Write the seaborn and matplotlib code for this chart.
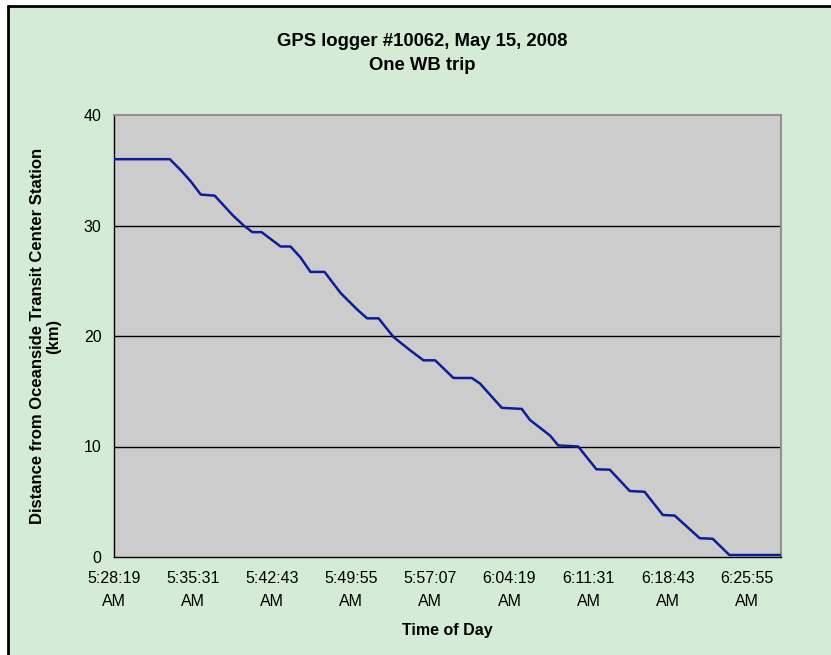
import matplotlib
matplotlib.use("Agg")
import matplotlib.pyplot as plt
import seaborn as sns
import pandas as pd
import numpy as np
from matplotlib.lines import Line2D
from matplotlib.patches import Rectangle

# clock times (h:mm:ss, AM)
times = ['5:28:19', '5:33:24', '5:34:24', '5:35:18', '5:36:13', '5:37:29', '5:39:06',
         '5:40:07', '5:40:55', '5:41:45', '5:43:29', '5:44:23', '5:45:18', '5:46:12',
         '5:47:29', '5:48:56', '5:50:27', '5:51:21', '5:52:24', '5:53:46', '5:55:17',
         '5:56:29', '5:57:33', '5:59:13', '6:00:53', '6:01:38', '6:03:37', '6:05:26',
         '6:06:11', '6:08:00', '6:08:45', '6:10:34', '6:12:14', '6:13:27', '6:15:16',
         '6:16:37', '6:18:17', '6:19:21', '6:21:38', '6:22:49', '6:24:20', '6:29:02']
distance_km = [36.0, 36.0, 35.0, 34.0, 32.8, 32.7, 30.95,
               30.0, 29.4, 29.4, 28.1, 28.1, 27.1, 25.8,
               25.8, 23.9, 22.4, 21.6, 21.6, 19.9, 18.7,
               17.8, 17.8, 16.2, 16.2, 15.7, 13.5, 13.4,
               12.4, 11.0, 10.1, 10.0, 7.94, 7.9, 5.97,
               5.9, 3.8, 3.75, 1.7, 1.65, 0.18, 0.18]
tick_labels = ['5:28:19\nAM', '5:35:31\nAM', '5:42:43\nAM', '5:49:55\nAM', '5:57:07\nAM',
               '6:04:19\nAM', '6:11:31\nAM', '6:18:43\nAM', '6:25:55\nAM']
y_ticks = [0, 10, 20, 30, 40]


def to_sec(s):
    h, m, sec = [int(v) for v in s.split(':')]
    return h * 3600 + m * 60 + sec


df = pd.DataFrame({'t': [to_sec(t) for t in times], 'km': distance_km})
tick_pos = [to_sec(lbl.split('\n')[0]) for lbl in tick_labels]

sns.set_style('white')
plt.rcParams['font.family'] = ['Liberation Sans', 'DejaVu Sans']
plt.rcParams['text.color'] = 'black'
plt.rcParams['axes.labelcolor'] = 'black'
plt.rcParams['xtick.color'] = 'black'
plt.rcParams['ytick.color'] = 'black'

fig = plt.figure(figsize=(8.31, 6.55), dpi=100, facecolor='white')
green = '#d4ebd6'
# chart area with black frame on top and left
fig.add_artist(Rectangle((8 / 831, 0), 1, 1 - 6 / 655, transform=fig.transFigure,
                         facecolor=green, edgecolor='none', zorder=0))
fig.add_artist(Line2D([8 / 831, 1], [1 - 6 / 655] * 2, transform=fig.transFigure,
                      color='black', lw=2))
fig.add_artist(Line2D([8 / 831] * 2, [0, 1 - 6 / 655], transform=fig.transFigure,
                      color='black', lw=2))

ax = fig.add_axes([114 / 831, 1 - 557 / 655, (781 - 114) / 831, (557 - 115) / 655])
ax.set_facecolor('#cccccc')

for yv in y_ticks[1:-1]:
    ax.axhline(yv, color='black', lw=1, zorder=1)

sns.lineplot(data=df, x='t', y='km', ax=ax, color='#0a1f99', lw=1.8, zorder=3)

ax.set_xlim(df['t'].iloc[0], df['t'].iloc[-1])
ax.set_ylim(0, 40)
ax.set_xticks(tick_pos)
ax.set_xticklabels(tick_labels, fontsize=11.5, linespacing=1.65)
ax.set_yticks(y_ticks)
ax.set_yticklabels([str(v) for v in y_ticks], fontsize=11.5)
ax.tick_params(axis='both', direction='out', length=5, width=1, color='black', pad=4)
ax.tick_params(axis='x', pad=5)

for s in ['left', 'bottom']:
    ax.spines[s].set_color('black')
    ax.spines[s].set_linewidth(1)
for s in ['top', 'right']:
    ax.spines[s].set_color('#909090')
    ax.spines[s].set_linewidth(1.5)

ax.set_xlabel('Time of Day', fontsize=11.5, fontweight='bold', labelpad=10)
ax.set_ylabel('Distance from Oceanside Transit Center Station\n(km)', fontsize=12,
              fontweight='bold', labelpad=16, linespacing=1.1)

fig.text(422 / 831, 1 - 41 / 655, 'GPS logger #10062, May 15, 2008', ha='center',
         va='center', fontsize=13.3, fontweight='bold')
fig.text(422 / 831, 1 - 65 / 655, 'One WB trip', ha='center', va='center',
         fontsize=13.3, fontweight='bold')

fig.savefig('out.png', dpi=100, facecolor=fig.get_facecolor())
